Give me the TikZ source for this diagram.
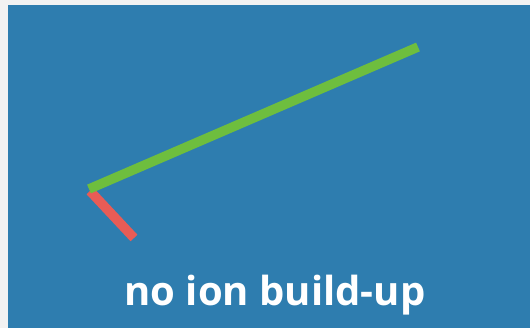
\documentclass[tikz,border=0pt]{standalone}
\usepackage{fontspec}
\setmainfont{Open Sans}
\definecolor{bgblue}{RGB}{46,125,175}
\definecolor{lgreen}{RGB}{110,190,62}
\definecolor{lred}{RGB}{232,92,86}
\begin{document}
\begin{tikzpicture}[x=1pt,y=-1pt,
  stick/.style={line width=9.5pt, line cap=butt},
  caption/.style={text=white, font=\fontsize{40}{44}\selectfont\bfseries, inner sep=0pt, anchor=base}]
\useasboundingbox (0,0) rectangle (530,328);
\fill[white!95!black] (0,0) rectangle (530,328);
\fill[bgblue] (8,5) rectangle (530,328);
\coordinate (g1) at (89,189);
\coordinate (g2) at (418,47);
\coordinate (r1) at (90,191);
\coordinate (r2) at (134,238);
\draw[stick, lred] (r1) -- (r2);
\draw[stick, lgreen] (g1) -- (g2);
\node[caption] (cap) at (275,306) {no ion build-up};
\end{tikzpicture}
\end{document}
